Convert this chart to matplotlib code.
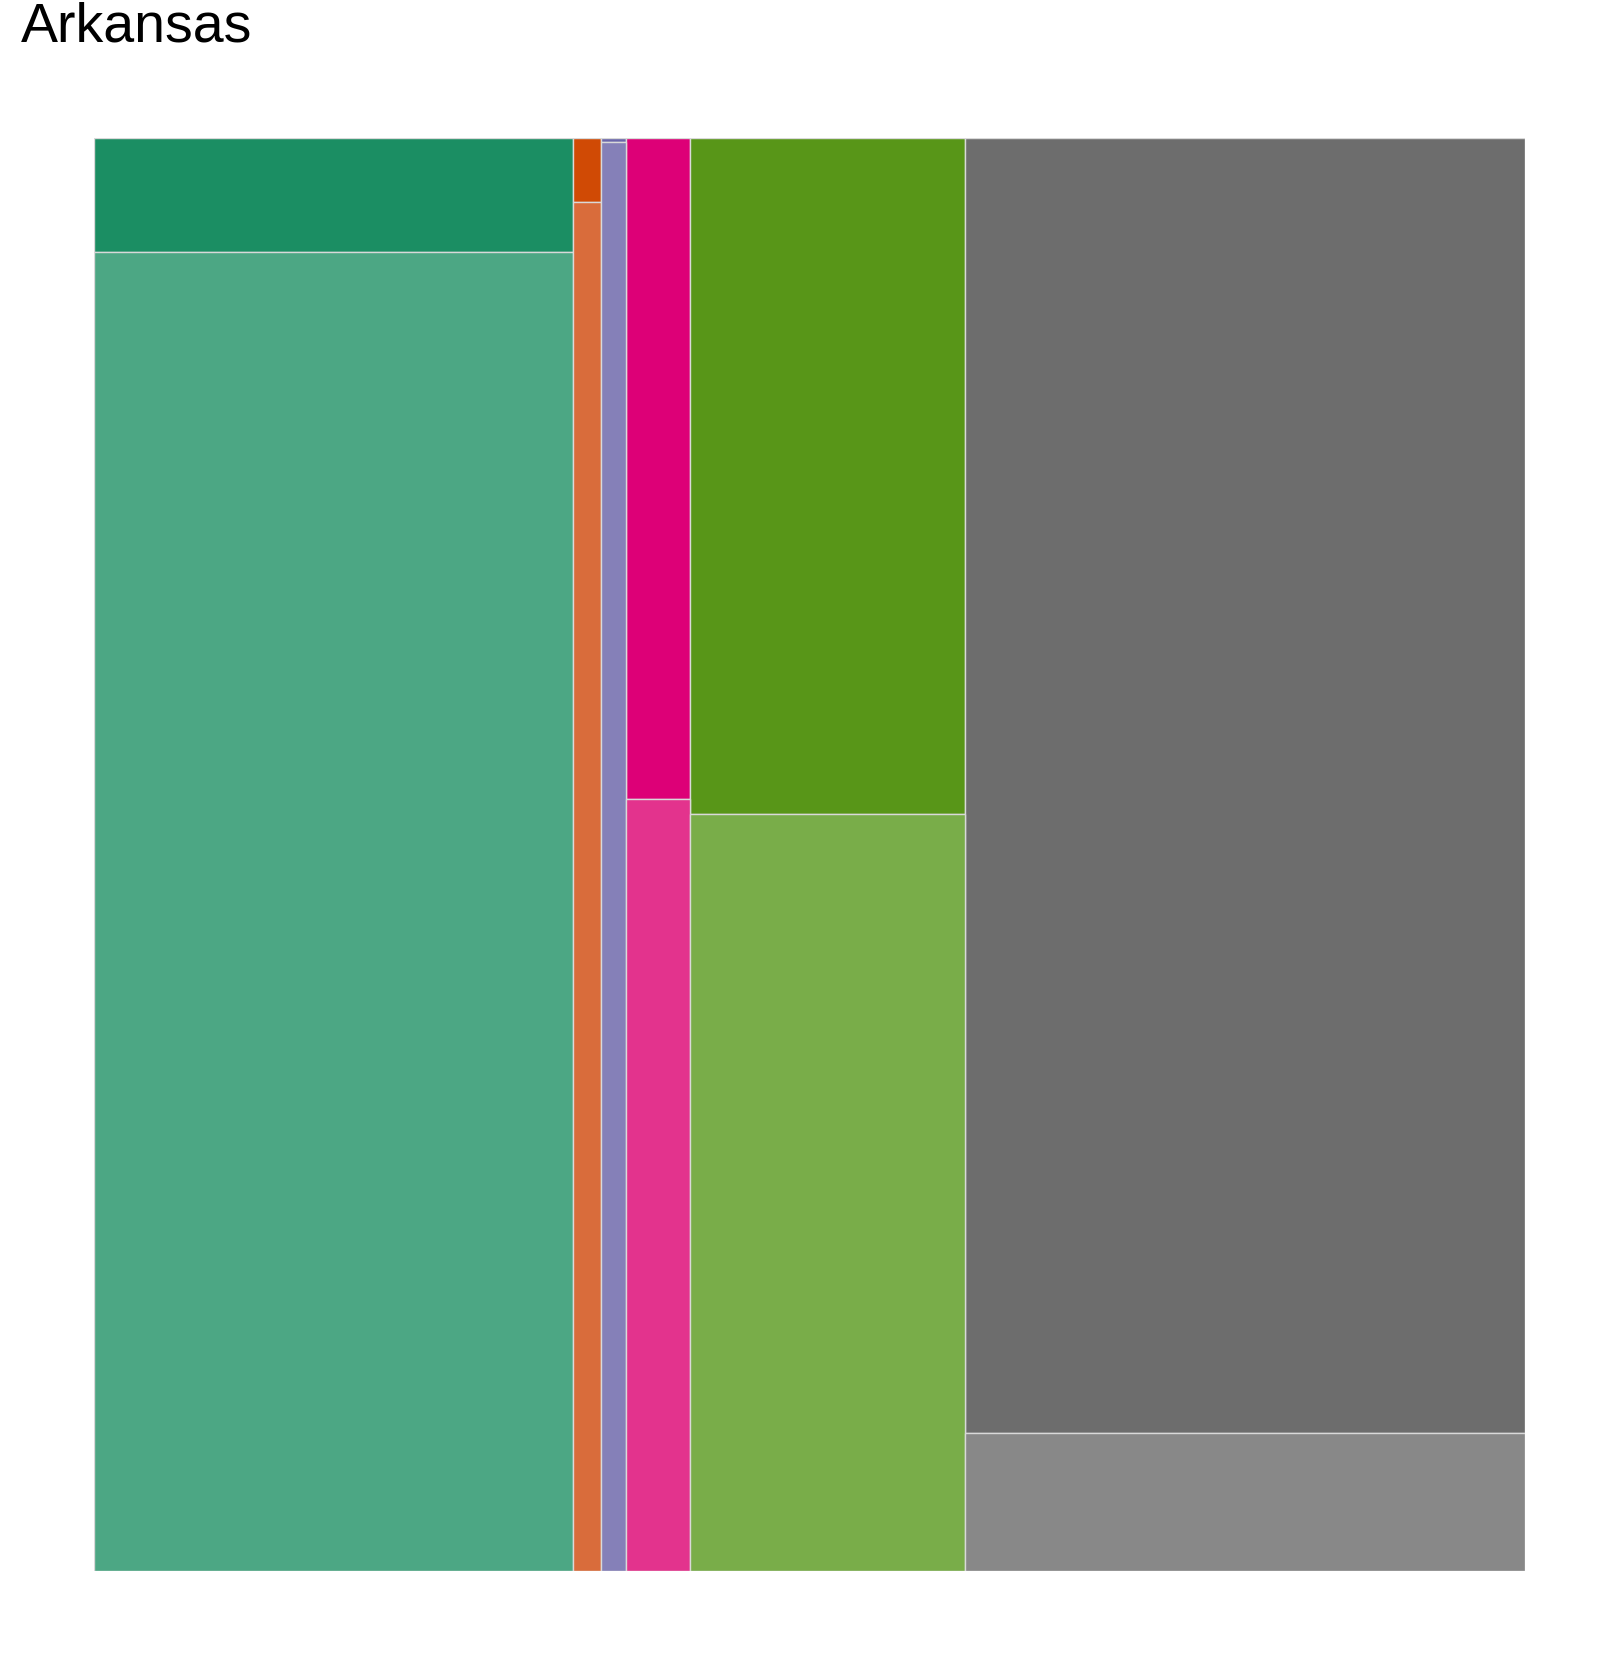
import matplotlib
matplotlib.use('Agg')
import matplotlib.pyplot as plt
import numpy as np

plt.rcParams['font.family'] = ['Liberation Sans', 'DejaVu Sans']

# column widths (share of total) and share of the darker top segment in each column
col_widths = [0.3347, 0.0196, 0.0175, 0.0447, 0.1920, 0.3915]
top_share = [0.0796, 0.0447, 0.0030, 0.4610, 0.4720, 0.9037]
top_colors = ['#1b8e63', '#d04a05', '#6a66aa', '#dd0077', '#589618', '#6d6d6d']
bottom_colors = ['#4ca784', '#d96c3b', '#8580b8', '#e3338d', '#79ad49', '#888888']

fig = plt.figure(figsize=(16.08, 16.54), dpi=100)
ax = fig.add_axes([94 / 1608, (1654 - 1571) / 1654, 1431 / 1608, 1433 / 1654])

widths = np.array(col_widths) / sum(col_widths)
lefts = np.concatenate([[0], np.cumsum(widths)[:-1]])
tops = np.array(top_share)

ax.bar(lefts, tops, width=widths, bottom=0, align='edge',
       color=top_colors, edgecolor='#d9d9d9', linewidth=1)
ax.bar(lefts, 1 - tops, width=widths, bottom=tops, align='edge',
       color=bottom_colors, edgecolor='#d9d9d9', linewidth=1)

ax.set_xlim(0, 1)
ax.set_ylim(1, 0)
ax.axis('off')

fig.text(21 / 1608, 1 - 41 / 1654, 'Arkansas', fontsize=40, ha='left', va='baseline')

plt.savefig('out.png', dpi=100)
